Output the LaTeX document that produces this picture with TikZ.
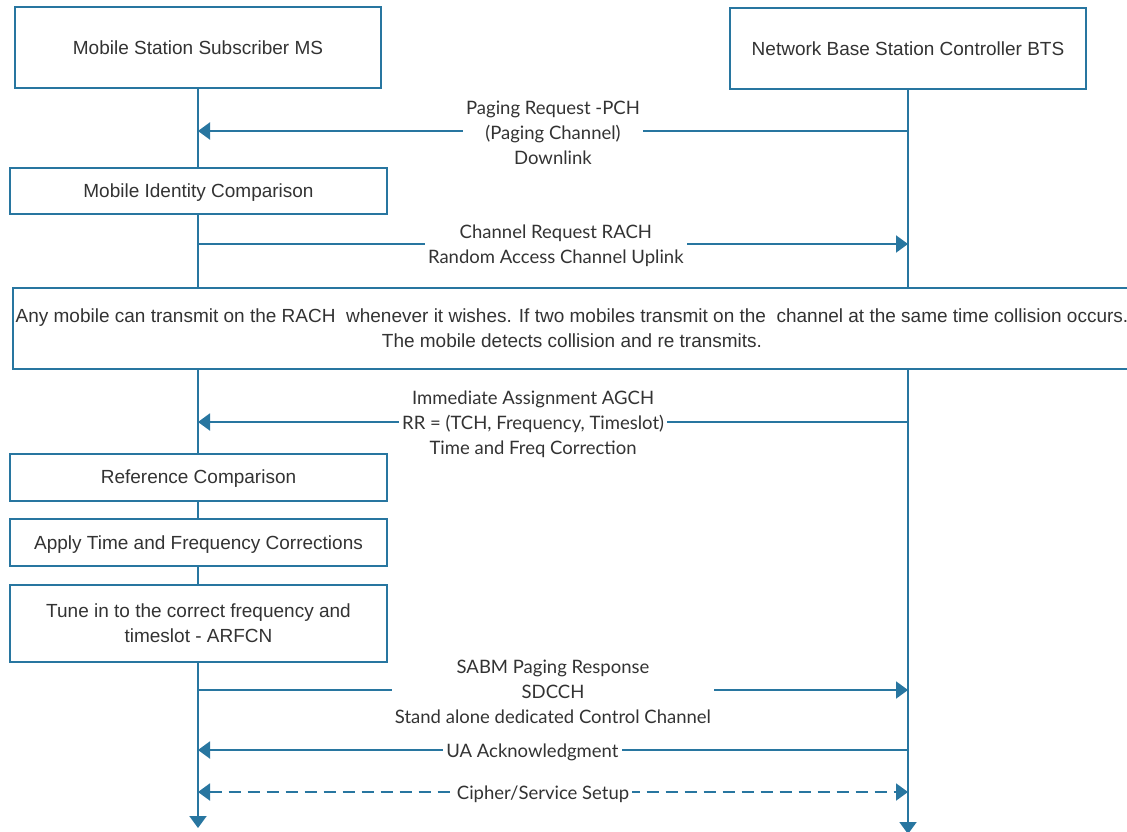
\documentclass[tikz,border=0pt]{standalone}
\usepackage{fontspec}
\setmainfont{Liberation Sans}
\newfontfamily\lato{Lato}
\usetikzlibrary{arrows.meta,backgrounds}
\definecolor{seqblue}{HTML}{2876A0}
\definecolor{seqtext}{HTML}{333333}
\begin{document}
\begin{tikzpicture}[x=1pt,y=-1pt,
  box/.style={draw=seqblue,line width=2pt,fill=white,text=seqtext,inner sep=0pt,
    align=center,font=\fontsize{19}{25}\selectfont},
  onebox/.style={box,text depth=0pt},
  life/.style={draw=seqblue,line width=2pt,-{Triangle[length=12pt,width=17pt]}},
  msg/.style={draw=seqblue,line width=2pt,-{Triangle[length=12pt,width=17pt]}},
  both/.style={draw=seqblue,line width=2pt,dash pattern=on 12pt off 7pt,
    {Triangle[length=12pt,width=17pt]}-{Triangle[length=12pt,width=17pt]}},
  lbl/.style={fill=white,text=seqtext,inner sep=3pt,align=center,yshift=-2pt,
    font=\lato\fontsize{18.5}{25}\selectfont}]
\useasboundingbox (0,0) rectangle (1127,832);

% participants
\node[onebox,minimum width=366pt,minimum height=81pt] (ms) at (198,48) {Mobile Station Subscriber MS};
\node[onebox,minimum width=356pt,minimum height=81pt] (bts) at (908,48.5) {Network Base Station Controller BTS};

% ends of the lifelines
\coordinate (msEnd) at (198,828);
\coordinate (btsEnd) at (908,834);

% activity boxes on the mobile side
\node[onebox,minimum width=377pt,minimum height=46pt] (mic) at (198.5,191) {Mobile Identity Comparison};
\node[box,minimum width=1118pt,minimum height=81pt] (rach) at (572,328)
  {Any mobile can transmit on the RACH~ whenever it wishes. If two mobiles transmit on the~ channel at the same time collision occurs.\\The mobile detects collision and re transmits.};
\node[onebox,minimum width=377pt,minimum height=47pt] (ref) at (198.5,477) {Reference Comparison};
\node[onebox,minimum width=377pt,minimum height=47pt] (apply) at (198.5,542.5) {Apply Time and Frequency Corrections};
\node[box,minimum width=377pt,minimum height=77pt] (tune) at (198.5,623) {Tune in to the correct frequency and\\timeslot - ARFCN};

% message end points on the lifelines
\coordinate (pagR) at (908,131);  \coordinate (pagL) at (198,131);
\coordinate (chL) at (198,244);   \coordinate (chR) at (908,244);
\coordinate (imR) at (908,422);   \coordinate (imL) at (198,422);
\coordinate (saL) at (198,690);   \coordinate (saR) at (908,690);
\coordinate (uaR) at (908,750);   \coordinate (uaL) at (198,750);
\coordinate (ciL) at (198,792);   \coordinate (ciR) at (908,792);

\begin{scope}[on background layer]
  \fill[white] (0,0) rectangle (1127,832);
  \draw[life] (ms.south) -- (msEnd);
  \draw[life] (bts.south) -- (btsEnd);
  \draw[msg] (pagR) -- (pagL);
  \draw[msg] (chL) -- (chR);
  \draw[msg] (imR) -- (imL);
  \draw[msg] (saL) -- (saR);
  \draw[msg] (uaR) -- (uaL);
  \draw[both] (ciL) -- (ciR);
\end{scope}

% message labels
\path (pagR) -- (pagL) node[lbl,pos=0.5] (pagT) {Paging Request -PCH\\(Paging Channel)\\Downlink};
\path (chL) -- (chR) node[lbl,pos=0.504] (chT) {Channel Request RACH\\Random Access Channel Uplink};
\path (imR) -- (imL) node[lbl,pos=0.528] (imT) {Immediate Assignment AGCH\\RR = (TCH, Frequency, Timeslot)\\Time and Freq Correction};
\path (saL) -- (saR) node[lbl,pos=0.5] (saT) {SABM Paging Response\\SDCCH\\Stand alone dedicated Control Channel};
\path (uaR) -- (uaL) node[lbl,pos=0.529] (uaT) {UA Acknowledgment};
\path (ciL) -- (ciR) node[lbl,pos=0.486] (ciT) {Cipher/Service Setup};
\end{tikzpicture}
\end{document}
